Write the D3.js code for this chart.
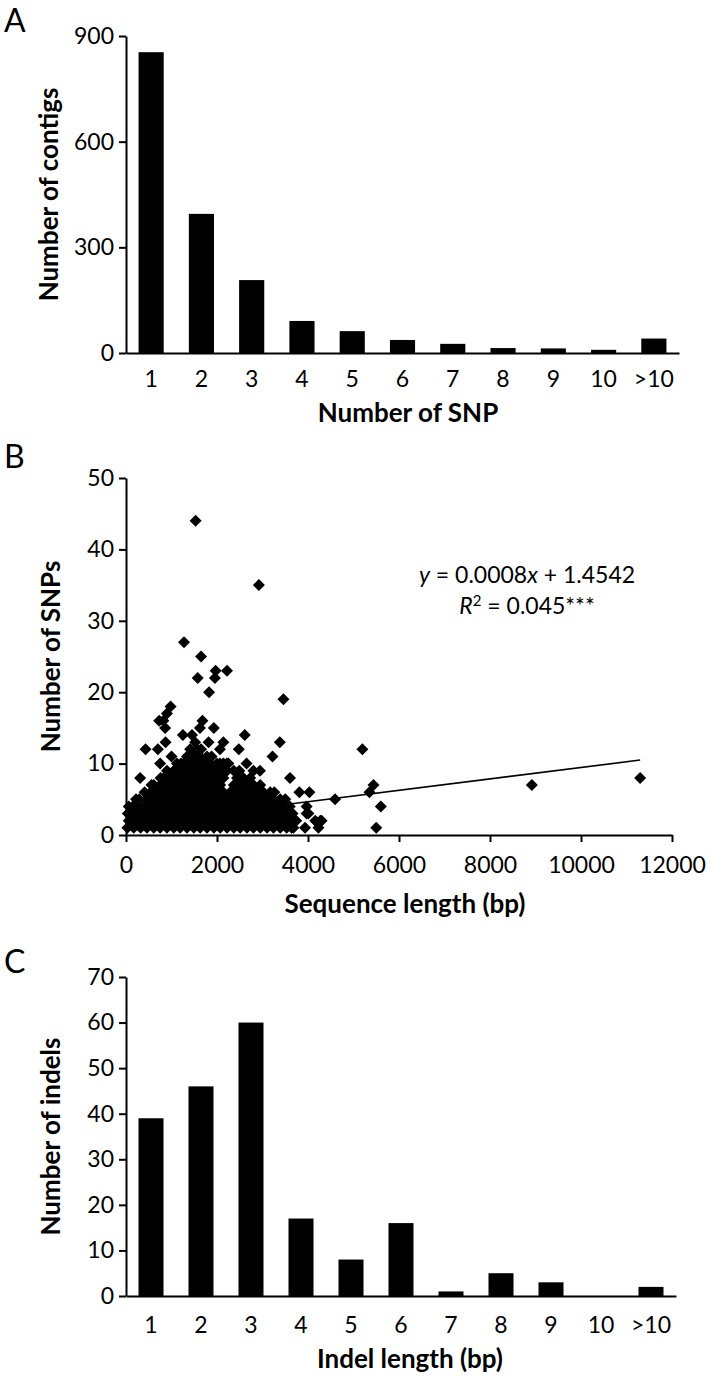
<!DOCTYPE html>
<html><head><meta charset="utf-8">
<script src="https://cdn.jsdelivr.net/npm/d3@7"></script>
<style>
body{margin:0;background:#fff}
text{font-family:Lato,"Open Sans",sans-serif;fill:#000}
</style>
</head><body>
<svg id="chart" width="712" height="1377"></svg>
<script>
// ---------- data ----------
const snpCategories = ["1","2","3","4","5","6","7","8","9","10",">10"];
const contigCounts = [854, 395, 207, 91, 62, 37, 26, 14, 13, 9, 41];
const contigTicks = [0, 300, 600, 900];

const indelCategories = ["1","2","3","4","5","6","7","8","9","10",">10"];
const indelCounts = [39, 46, 60, 17, 8, 16, 1, 5, 3, 0, 2];
const indelTicks = [0, 10, 20, 30, 40, 50, 60, 70];

const lengthTicks = [0, 2000, 4000, 6000, 8000, 10000, 12000];
const snpTicks = [0, 10, 20, 30, 40, 50];

// isolated / edge points of panel B: [sequence length, number of SNPs]
const scatterOutliers = [
  [1530,44],[2920,35],[1275,27],[1650,25],[1575,22],[1970,23],[1955,22],[2220,23],[1825,20],[3460,19],
  [980,18],[900,17],[820,16],[730,16],[860,15],[1680,16],[1625,15],[1930,15],
  [1250,14],[1450,14],[2610,14],[1815,13],[2140,13],[870,13],[3380,13],
  [430,12],[700,12],[2480,12],[2065,12],[5195,12],
  [1000,11],[3220,11],
  [750,10],[1210,10],[2065,10],[2215,10],[2650,10],
  [2800,9],[2945,9],
  [310,8],[3605,8],[11300,8],
  [5440,7],[8920,7],
  [3810,6],[4030,6],[5350,6],
  [4595,5],
  [3970,4],[5600,4],
  [3970,3],[4010,3],
  [4160,2],[4270,2],[4300,2],
  [3640,1],[3935,1],[4230,1],[5500,1]
];
// dense body of panel B, read row by row (SNP count -> sequence lengths)
const denseY1 = [30,170,320,460,610,750,900,1050,1190,1340,1490,1630,1780,1930,2070,2220,2370,2510,2660,2800,2950,3100,3240,3390,3530,3680];
const denseY2 = [60,100,250,390,540,680,830,980,1120,1270,1410,1560,1710,1850,2000,2140,2290,2440,2580,2730,2870,3020,3170,3310,3460,3600,3740];
const denseY3 = [40,170,320,460,610,750,900,1050,1190,1340,1490,1630,1780,1930,2070,2220,2370,2510,2660,2800,2950,3100,3240,3390,3530,3660];
const denseY4 = [60,150,250,390,540,680,830,980,1120,1270,1410,1560,1710,1850,2000,2140,2290,2440,2580,2730,2870,3020,3170,3310,3460,3600];
const denseY5 = [220,290,460,610,750,900,1050,1190,1340,1490,1630,1780,1930,2070,2220,2370,2510,2660,2800,2950,3100,3240,3390,3500];
const denseY6 = [410,540,680,830,980,1120,1270,1410,1560,1710,1850,2000,2140,2290,2440,2580,2730,2870,3020,3170,3260];
const denseY7 = [560,610,750,900,1050,1190,1340,1490,1630,1780,1930,2070,2370,2510,2660,2800,2950];
const denseY8 = [760,830,980,1120,1270,1410,1560,1710,1850,2000,2140,2440,2580,2730];
const denseY9 = [900,1050,1190,1340,1490,1630,1780,1930,2070,2220,2370,2490];
const denseY10 = [1120,1270,1410,1560,1710,1850,2000,2140,2250];
const denseY11 = [1340,1490,1630,1780,1880];
const denseY12 = [1410,1560,1650];
const denseY13 = [1520];

const trendSlope = 0.0008, trendIntercept = 1.4542;
const trendXRange = [0, 11300];

// ---------- drawing ----------
const svg = d3.select("#chart");
const TICK_FONT = 23, TITLE_FONT = 26, LETTER_FONT = 32;

function styleAxis(g){
  g.selectAll("path.domain").attr("stroke","#000").attr("stroke-width",2);
  g.selectAll(".tick line").attr("stroke","#000").attr("stroke-width",2);
  g.selectAll(".tick text").attr("fill","#000")
    .style("font-family","Lato, sans-serif").style("font-size",TICK_FONT+"px");
}

function barPanel(cfg){
  const x = d3.scaleBand().domain(cfg.cats).range([cfg.x0, cfg.x1])
    .paddingInner(0.5).paddingOuter(0.25);
  const y = d3.scaleLinear().domain([0, d3.max(cfg.ticks)]).range([cfg.yBase, cfg.yTop]);
  const g = svg.append("g");
  g.selectAll("rect").data(cfg.values).join("rect")
    .attr("x",(d,i)=>x(cfg.cats[i])).attr("width",x.bandwidth())
    .attr("y",d=>y(d)).attr("height",d=>y(0)-y(d)).attr("fill","#000");
  const ya = g.append("g").attr("transform",`translate(${cfg.x0},0)`)
    .call(d3.axisLeft(y).tickValues(cfg.ticks).tickSize(7).tickSizeOuter(0).tickPadding(5).tickFormat(d3.format("d")));
  styleAxis(ya);
  const xa = g.append("g").attr("transform",`translate(0,${cfg.yBase})`)
    .call(d3.axisBottom(x).tickSize(0).tickSizeOuter(0).tickPadding(cfg.xPad));
  styleAxis(xa);
  g.append("text").attr("x",cfg.titleX).attr("y",cfg.titleY).attr("text-anchor","middle")
    .style("font-size",TITLE_FONT+"px").style("font-weight","bold").text(cfg.xTitle);
  g.append("text").attr("transform",`translate(${cfg.yTitleX},${(cfg.yBase+cfg.yTop)/2}) rotate(-90)`)
    .attr("text-anchor","middle").style("font-size",TITLE_FONT+"px").style("font-weight","bold").text(cfg.yTitle);
  g.append("text").attr("x",4).attr("y",cfg.letterY).style("font-size",LETTER_FONT+"px").text(cfg.letter);
}

barPanel({cats:snpCategories, values:contigCounts, ticks:contigTicks,
  x0:126, x1:679, yBase:353, yTop:36, xPad:18,
  xTitle:"Number of SNP", titleX:408, titleY:422,
  yTitle:"Number of contigs", yTitleX:58, letter:"A", letterY:32});

barPanel({cats:indelCategories, values:indelCounts, ticks:indelTicks,
  x0:126, x1:676, yBase:1296, yTop:977, xPad:21,
  xTitle:"Indel length (bp)", titleX:410, titleY:1368,
  yTitle:"Number of indels", yTitleX:60, letter:"C", letterY:973});

// Panel B scatter
(function(){
  const x = d3.scaleLinear().domain([0,12000]).range([126,672]);
  const y = d3.scaleLinear().domain([0,50]).range([835,478]);
  const g = svg.append("g");
  const pts = [];
  const rows = [denseY1,denseY2,denseY3,denseY4,denseY5,denseY6,denseY7,denseY8,denseY9,denseY10,denseY11,denseY12,denseY13];
  rows.forEach((xs,i)=>xs.forEach(v=>pts.push([v,i+1])));
  scatterOutliers.forEach(p=>pts.push(p));

  g.append("line")
    .attr("x1",x(trendXRange[0])).attr("y1",y(trendSlope*trendXRange[0]+trendIntercept))
    .attr("x2",x(trendXRange[1])).attr("y2",y(trendSlope*trendXRange[1]+trendIntercept))
    .attr("stroke","#000").attr("stroke-width",1.6);

  const sym = d3.symbol().type(d3.symbolSquare).size(72);
  g.selectAll("path.pt").data(pts).join("path").attr("class","pt")
    .attr("d",sym).attr("fill","#000")
    .attr("transform",d=>`translate(${x(d[0])},${y(d[1])}) rotate(45)`);

  const ya = g.append("g").attr("transform","translate(126,0)")
    .call(d3.axisLeft(y).tickValues(snpTicks).tickSize(7).tickSizeOuter(0).tickPadding(5));
  styleAxis(ya);
  const xa = g.append("g").attr("transform","translate(0,835)")
    .call(d3.axisBottom(x).tickValues(lengthTicks).tickSize(7).tickSizeOuter(0).tickPadding(15).tickFormat(d3.format("d")));
  styleAxis(xa);

  const eq = g.append("text").attr("x",527).attr("y",583).attr("text-anchor","middle").style("font-size",TICK_FONT+"px");
  eq.append("tspan").style("font-style","italic").text("y");
  eq.append("tspan").text(" = 0.0008");
  eq.append("tspan").style("font-style","italic").text("x");
  eq.append("tspan").text(" + 1.4542");
  const r2 = g.append("text").attr("x",527).attr("y",614).attr("text-anchor","middle").style("font-size",TICK_FONT+"px");
  r2.append("tspan").style("font-style","italic").text("R");
  r2.append("tspan").attr("dy",-8).style("font-size","15px").text("2");
  r2.append("tspan").attr("dy",8).text(" = 0.045***");

  g.append("text").attr("x",405).attr("y",913).attr("text-anchor","middle")
    .style("font-size",TITLE_FONT+"px").style("font-weight","bold").text("Sequence length (bp)");
  g.append("text").attr("transform",`translate(60,${(835+478)/2}) rotate(-90)`)
    .attr("text-anchor","middle").style("font-size",TITLE_FONT+"px").style("font-weight","bold").text("Number of SNPs");
  g.append("text").attr("x",4).attr("y",468).style("font-size",LETTER_FONT+"px").text("B");
})();
</script>
</body></html>
